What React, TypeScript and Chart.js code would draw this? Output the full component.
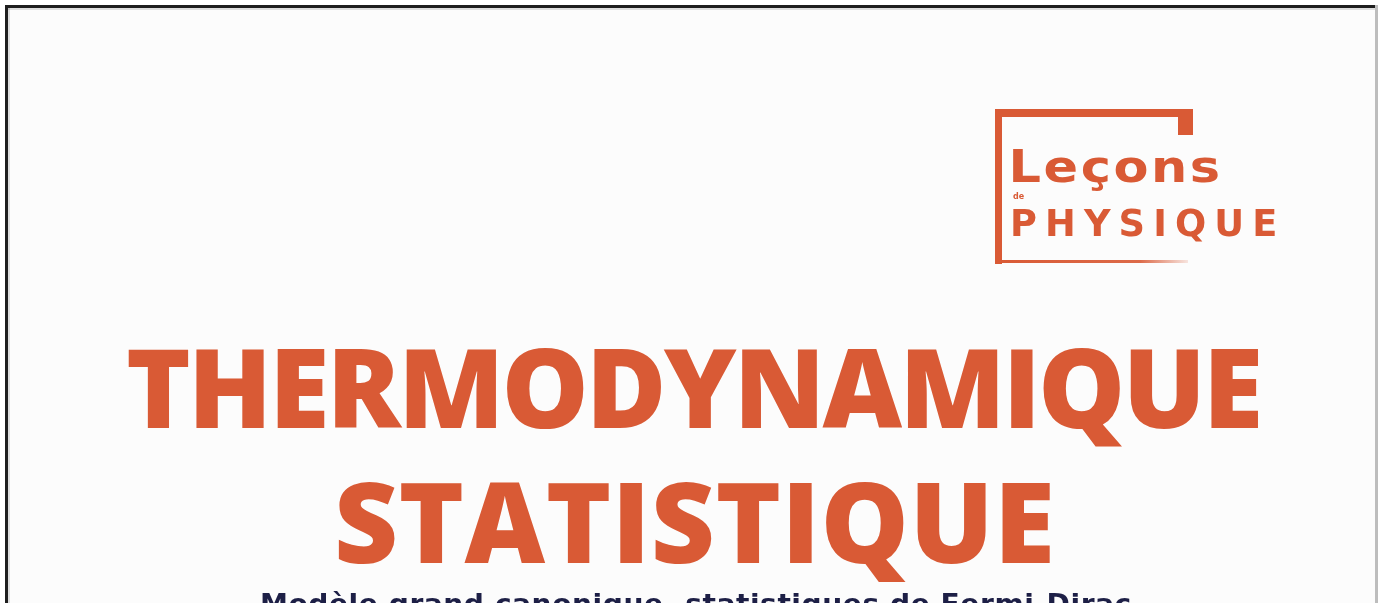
import React, { useEffect, useRef } from "react";
import { Chart, registerables } from "chart.js";

Chart.register(...registerables);

// ---- content (text "data") ----
const TITLE_LINES: string[] = ["THERMODYNAMIQUE", "STATISTIQUE"];
const TITLE_LEFT: number[] = [128, 338];
const TITLE_RIGHT: number[] = [1258, 1050];
const TITLE_TOP: number[] = [349, 483];
const TITLE_BASE: number[] = [428, 563];

const LOGO_WORDS: string[] = ["Leçons", "de", "PHYSIQUE"];
const SUBTITLE: string = "Modèle grand canonique, statistiques de Fermi-Dirac";

const ORANGE = "#d95a35";
const NAVY = "#1d1f46";

// Draws text whose ink spans [left,right] with cap height (baseline-top).
// If tracking (em) is given, the glyphs are stretched horizontally instead of spaced.
function drawFitted(
  ctx: CanvasRenderingContext2D,
  text: string,
  left: number,
  right: number,
  top: number,
  baseline: number,
  family: string,
  weight: string,
  color: string,
  tracking: number | null = null
) {
  ctx.save();
  ctx.font = `${weight} 100px ${family}`;
  const m = ctx.measureText("H");
  const capRatio = m.actualBoundingBoxAscent / 100;
  const size = (baseline - top) / (capRatio || 0.72);
  ctx.font = `${weight} ${size}px ${family}`;
  ctx.fillStyle = color;
  ctx.textBaseline = "alphabetic";
  ctx.textAlign = "left";
  const chars = Array.from(text);
  const widths = chars.map((c) => ctx.measureText(c).width);
  const first = ctx.measureText(chars[0]);
  const last = ctx.measureText(chars[chars.length - 1]);
  const lb = -first.actualBoundingBoxLeft;
  const lastInk = last.actualBoundingBoxRight;
  let natural = 0;
  for (let i = 0; i < chars.length - 1; i++) natural += widths[i];
  natural += lastInk - lb;
  const n = chars.length;
  let sx = 1;
  let spacing = n > 1 ? (right - left - natural) / (n - 1) : 0;
  if (tracking !== null) {
    spacing = tracking * size;
    sx = (right - left) / (natural + spacing * (n - 1));
  }
  ctx.translate(left, 0);
  ctx.scale(sx, 1);
  let x = -lb;
  chars.forEach((c, i) => {
    ctx.fillText(c, x, baseline);
    x += widths[i] + spacing;
  });
  ctx.restore();
}

const coverPlugin = {
  id: "cover",
  beforeDraw(chart: any) {
    const ctx: CanvasRenderingContext2D = chart.ctx;
    const W = chart.width;
    const H = chart.height;
    ctx.save();
    ctx.fillStyle = "#ffffff";
    ctx.fillRect(0, 0, W, H);
    ctx.fillStyle = "#fcfcfc";
    ctx.fillRect(5, 5, 1373, H - 5);
    ctx.fillStyle = "#1e1e1e";
    ctx.fillRect(5, 5, 1373, 3);
    ctx.fillRect(5, 5, 3, H - 5);
    ctx.fillStyle = "rgba(0,0,0,0.12)";
    ctx.fillRect(8, 8, 1367, 2);
    ctx.fillRect(8, 8, 2, H - 8);
    ctx.fillStyle = "#bdbdbd";
    ctx.fillRect(1375, 5, 3, H - 5);

    // logo frame
    ctx.fillStyle = ORANGE;
    ctx.fillRect(995, 109, 198, 8);
    ctx.fillRect(1178, 109, 15, 26);
    ctx.fillRect(995, 109, 7, 155);
    const g = ctx.createLinearGradient(995, 0, 1188, 0);
    g.addColorStop(0, ORANGE);
    g.addColorStop(0.75, "rgba(217,90,53,0.9)");
    g.addColorStop(1, "rgba(217,90,53,0.15)");
    ctx.fillStyle = g;
    ctx.fillRect(995, 260, 193, 3);
    ctx.restore();

    // logo text
    drawFitted(ctx, LOGO_WORDS[0], 1013, 1218, 149, 182, "'DejaVu Sans', sans-serif", "700", ORANGE, 0.05);
    ctx.save();
    ctx.font = "700 8px 'DejaVu Sans', sans-serif";
    ctx.fillStyle = ORANGE;
    ctx.fillText(LOGO_WORDS[1], 1013, 199);
    ctx.restore();
    drawFitted(ctx, LOGO_WORDS[2], 1013, 1275, 209, 236, "'DejaVu Sans', sans-serif", "700", ORANGE, 0.22);

    // titles
    TITLE_LINES.forEach((t, i) => {
      drawFitted(ctx, t, TITLE_LEFT[i], TITLE_RIGHT[i], TITLE_TOP[i], TITLE_BASE[i], "'Open Sans', sans-serif", "800", ORANGE);
    });

    // subtitle (cut by the bottom edge)
    drawFitted(ctx, SUBTITLE, 262, 1130, 593, 613, "'DejaVu Sans', sans-serif", "700", NAVY, 0.02);
  },
};

export default function App() {
  const ref = useRef<HTMLCanvasElement | null>(null);
  useEffect(() => {
    document.body.style.margin = "0";
    const canvas = ref.current;
    if (!canvas) return;
    const chart = new Chart(canvas, {
      type: "scatter",
      data: { datasets: [] },
      options: {
        responsive: false,
        animation: false,
        events: [],
        plugins: { legend: { display: false }, tooltip: { enabled: false }, title: { display: false } },
        scales: { x: { display: false }, y: { display: false } },
      },
      plugins: [coverPlugin],
    });
    return () => chart.destroy();
  }, []);
  return (
    <div style={{ position: "fixed", left: 0, top: 0, width: 1380, height: 603, overflow: "hidden" }}>
      <canvas ref={ref} width={1380} height={603} style={{ display: "block", width: 1380, height: 603 }} />
    </div>
  );
}
